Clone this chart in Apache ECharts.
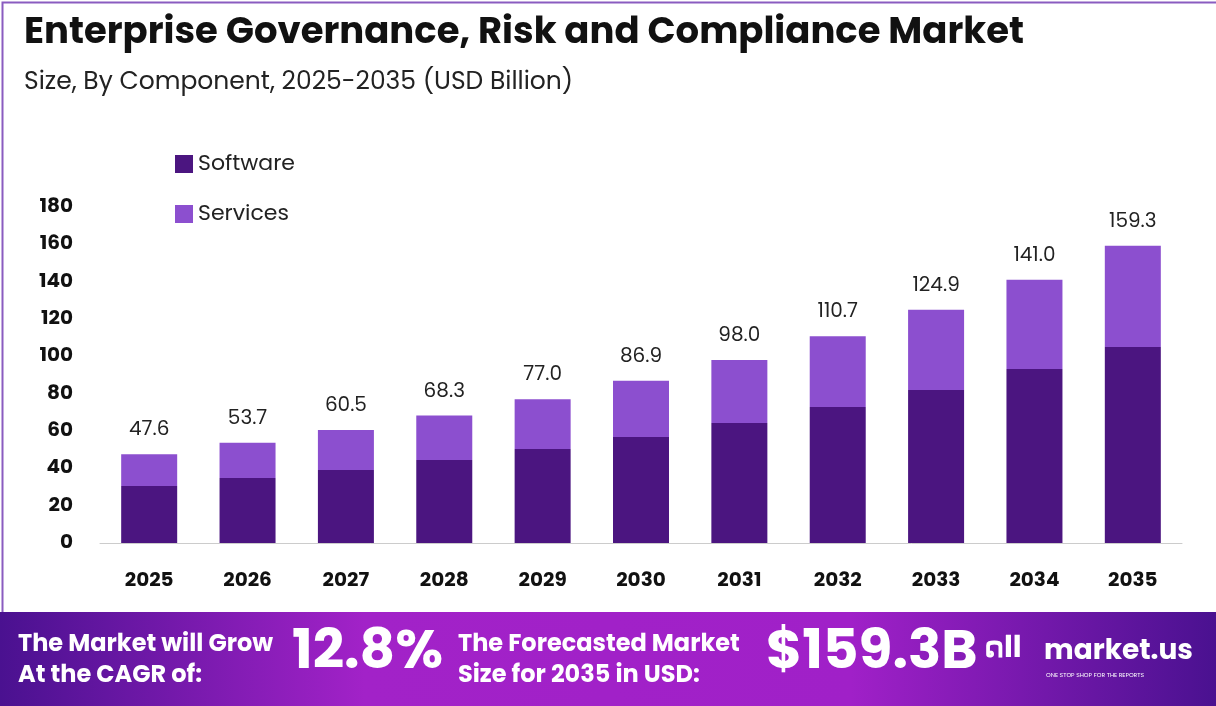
<!DOCTYPE html>
<html>
<head>
<meta charset="utf-8">
<script src="https://cdn.jsdelivr.net/npm/echarts@6/dist/echarts.min.js"></script>
<style>
html,body{margin:0;padding:0;background:#fff;}
#main{width:1216px;height:706px;}
</style>
</head>
<body>
<div id="main"></div>
<script>
var years = ['2025','2026','2027','2028','2029','2030','2031','2032','2033','2034','2035'];
var software = [30.5, 34.8, 39.1, 44.5, 50.3, 56.8, 64.3, 72.8, 82.0, 93.2, 105.0];
var totals = [47.6, 53.7, 60.5, 68.3, 77.0, 86.9, 98.0, 110.7, 124.9, 141.0, 159.3];
var services = totals.map(function (t, i) { return +(t - software[i]).toFixed(1); });

var chart = echarts.init(document.getElementById('main'));
var font = 'Poppins, Inter, "Open Sans", sans-serif';

chart.setOption({
    animation: false,
    textStyle: { fontFamily: font },
    legend: {
        orient: 'vertical',
        left: 170, top: 148,
        itemWidth: 18, itemHeight: 18, itemGap: 28,
        icon: 'rect',
        textStyle: { fontSize: 22, color: '#222', fontFamily: font },
        data: ['Software', 'Services']
    },
    grid: { left: 100, right: 34, top: 207, bottom: 163 },
    xAxis: {
        type: 'category',
        data: years,
        axisTick: { show: false },
        axisLine: { lineStyle: { color: '#ccc' } },
        axisLabel: { fontSize: 20, fontWeight: 'bold', color: '#111', margin: 28 }
    },
    yAxis: {
        type: 'value',
        min: 0, max: 180, interval: 20,
        splitLine: { show: false },
        axisLabel: { fontSize: 20, fontWeight: 'bold', color: '#111', margin: 27 }
    },
    series: [
        {
            name: 'Software', type: 'bar', stack: 'a', barWidth: 56,
            itemStyle: { color: '#4b1580' },
            data: software
        },
        {
            name: 'Services', type: 'bar', stack: 'a', barWidth: 56,
            itemStyle: { color: '#8c4fcf' },
            label: {
                show: true, position: 'top', distance: 14, fontSize: 20, color: '#222',
                formatter: function (p) { return totals[p.dataIndex].toFixed(1); }
            },
            data: services
        }
    ],
    graphic: [
        { type: 'rect', left: 0, top: 0, shape: { width: 1215, height: 612 }, style: { fill: 'none', stroke: '#8a5cc0', lineWidth: 2 }, silent: true },
        { type: 'text', left: 24, top: 15, style: { text: 'Enterprise Governance, Risk and Compliance Market', font: 'bold 37px ' + font, fill: '#111' } },
        { type: 'text', left: 24, top: 70, style: { text: 'Size, By Component, 2025-2035 (USD Billion)', font: '25px ' + font, fill: '#222' } },
        {
            type: 'rect', left: 0, top: 612, shape: { width: 1216, height: 94 },
            style: { fill: new echarts.graphic.LinearGradient(0, 0, 1, 0, [
                { offset: 0, color: '#4a1190' }, { offset: 0.3, color: '#a222c8' },
                { offset: 0.7, color: '#a020c8' }, { offset: 1, color: '#4a1190' }]) }
        },
        { type: 'text', left: 18, top: 629, style: { text: 'The Market will Grow\nAt the CAGR of:', font: 'bold 24px ' + font, fill: '#fff', lineHeight: 31 } },
        { type: 'text', left: 292, top: 627, style: { text: '12.8%', font: 'bold 55px ' + font, fill: '#fff' } },
        { type: 'text', left: 458, top: 629, style: { text: 'The Forecasted Market\nSize for 2035 in USD:', font: 'bold 24px ' + font, fill: '#fff', lineHeight: 31 } },
        { type: 'text', left: 766, top: 627, style: { text: '$159.3B', font: 'bold 55px ' + font, fill: '#fff' } },
        { type: 'text', left: 984, top: 634, style: { text: 'ດll', font: 'bold 30px ' + font, fill: '#fff' } },
        { type: 'text', left: 1044, top: 638, style: { text: 'market.us', font: 'bold 28px ' + font, fill: '#fff' } },
        { type: 'text', left: 1046, top: 672, style: { text: 'ONE STOP SHOP FOR THE REPORTS', font: '6px ' + font, fill: '#fff' } }
    ]
});
</script>
</body>
</html>
